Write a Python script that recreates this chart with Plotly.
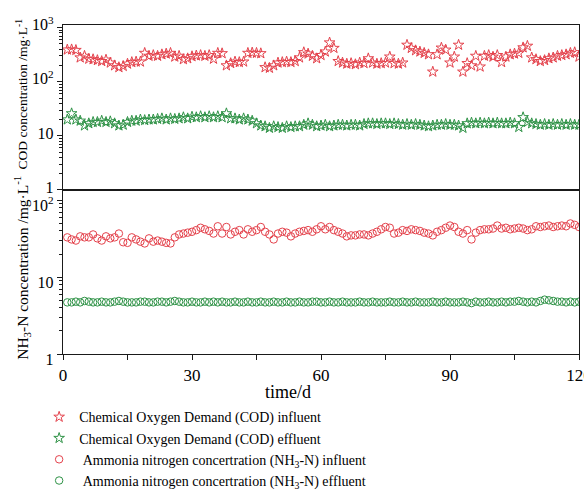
import plotly.graph_objects as go

days = list(range(1, 121))

cod_influent = [
    392, 395, 385, 280, 300, 265, 260, 250, 240, 255,
    225, 200, 185, 195, 215, 230, 235, 235, 340, 300,
    310, 300, 320, 330, 340, 290, 300, 260, 270, 295,
    305, 310, 300, 310, 265, 340, 335, 200, 220, 235,
    230, 235, 340, 345, 340, 335, 185, 180, 200, 225,
    230, 235, 230, 240, 280, 350, 330, 300, 270, 310,
    360, 530, 420, 240, 225, 215, 220, 210, 225, 220,
    270, 225, 215, 220, 225, 290, 220, 215, 225, 480,
    420, 380, 360, 340, 320, 153, 320, 425, 390, 225,
    290, 480, 153, 220, 200, 300, 190, 300, 310, 290,
    310, 230, 290, 320, 330, 340, 430, 460, 280, 260,
    240, 250, 270, 280, 300, 310, 320, 340, 350, 290,
]

cod_effluent = [
    20, 26, 20, 19, 15.5, 17, 18, 18, 19, 18,
    18.5, 17, 15.5, 16, 18, 19, 19, 20, 19.5, 20,
    20, 20.5, 21, 20, 21, 20.5, 21, 22, 21, 22.5,
    22, 23, 22, 23, 22, 23, 22, 26, 21, 21,
    20, 21, 20, 19, 17, 15.5, 15, 14, 15, 14.5,
    14, 15, 14.5, 15, 15, 16, 17, 16, 15, 15.5,
    16, 15, 15.5, 16, 16, 15.5, 16, 16, 15.5, 16.5,
    17, 17, 16.5, 17, 17, 16.5, 17, 16.5, 16, 16.5,
    16, 16.5, 16, 15.5, 15, 15.5, 16, 16, 16.5, 16,
    16, 15.5, 14, 17, 17.5, 17, 17.5, 17, 17.5, 17,
    17.5, 17, 17, 17.5, 17, 14.5, 22, 18, 17, 16.5,
    16, 16.5, 16, 16.5, 16, 16.5, 16, 16.5, 16, 16,
]

nh3_influent = [
    33, 31, 30, 34, 33, 33, 36, 32, 30, 34,
    32, 33, 37, 28.5, 28, 33, 31, 29, 27.5, 32,
    29, 30, 29, 28, 27.5, 33, 36, 37, 38, 39,
    41, 44, 42, 40, 37, 46, 37, 45, 36, 39,
    41, 36, 42, 39, 41, 45, 39, 36, 31, 37,
    39, 38, 34, 37, 39, 40, 41, 39, 42, 46,
    42, 45, 41, 39, 37, 34, 35, 35, 36, 36,
    35, 37, 39, 42, 45, 44, 37, 38, 41, 40,
    42, 41, 40, 38, 37, 35, 39, 41, 44, 47,
    45, 39, 37, 41, 31, 38, 41, 42, 42, 43,
    47, 43, 44, 42, 43, 44, 43, 41, 42, 46,
    45, 46, 47, 45, 46, 47, 46, 50, 48, 45,
]

nh3_effluent = [
    4.7, 4.7, 4.8, 4.7, 4.9, 4.8, 4.7, 4.7, 4.8, 4.7,
    4.7, 4.8, 4.9, 4.8, 4.7, 4.7, 4.7, 4.8, 4.8, 4.7,
    4.7, 4.8, 4.8, 4.7, 4.8, 4.9, 4.8, 4.7, 4.7, 4.8,
    4.7, 4.7, 4.8, 4.7, 4.8, 4.7, 4.8, 4.7, 4.7, 4.8,
    4.7, 4.7, 4.8, 4.7, 4.7, 4.8, 4.7, 4.7, 4.8, 4.7,
    4.7, 4.8, 4.7, 4.7, 4.8, 4.7, 4.7, 4.8, 4.8, 4.7,
    4.7, 4.8, 4.7, 4.7, 4.8, 4.7, 4.7, 4.7, 4.8, 4.7,
    4.7, 4.8, 4.7, 4.7, 4.7, 4.8, 4.7, 4.7, 4.8, 4.7,
    4.7, 4.8, 4.7, 4.7, 4.7, 4.8, 4.7, 4.7, 4.8, 4.7,
    4.7, 4.7, 4.8, 4.7, 4.6, 4.8, 4.7, 4.7, 4.8, 4.7,
    4.7, 4.8, 4.7, 4.8, 4.8, 4.9, 4.8, 4.7, 4.8, 4.7,
    4.9, 5.1, 5.0, 4.9, 4.8, 4.8, 4.7, 4.8, 4.7, 4.8,
]

series_names = [
    "Chemical Oxygen Demand (COD) influent",
    "Chemical Oxygen Demand (COD) effluent",
    "\u00a0Ammonia nitrogen concertration (NH<sub>3</sub>-N) influent",
    "\u00a0Ammonia nitrogen concertration (NH<sub>3</sub>-N) effluent",
]

x_ticks = [0, 30, 60, 90, 120]
cod_tickvals = [1, 10, 100, 1000]
cod_ticktext = ["1", "10", "10<sup>2</sup>", "10<sup>3</sup>"]
nh3_tickvals = [1, 10, 100]
nh3_ticktext = ["1", "10", "10<sup>2</sup>"]
minor_log = [m * 10 ** e for e in range(0, 3) for m in range(2, 10)]

RED = "rgb(228,66,76)"
GREEN = "rgb(46,146,70)"
FONT = "Liberation Serif"
AX = "#1a1a1a"

W, H = 584, 490
ML, MR, MT, MB = 63, 5, 25, 136
PW = W - ML - MR

fig = go.Figure()
fig.add_trace(go.Scatter(x=days, y=cod_influent, mode="markers", name=series_names[0],
                         xaxis="x2", yaxis="y2", legendgroup="a",
                         marker=dict(symbol="star-open", size=8, color=RED, line=dict(width=1))))
fig.add_trace(go.Scatter(x=days, y=cod_effluent, mode="markers", name=series_names[1],
                         xaxis="x2", yaxis="y2", legendgroup="b",
                         marker=dict(symbol="star-open", size=8, color=GREEN, line=dict(width=1))))
fig.add_trace(go.Scatter(x=days, y=nh3_influent, mode="markers", name=series_names[2],
                         xaxis="x", yaxis="y", legendgroup="c",
                         marker=dict(symbol="circle-open", size=7.5, color=RED, line=dict(width=1))))
fig.add_trace(go.Scatter(x=days, y=nh3_effluent, mode="markers", name=series_names[3],
                         xaxis="x", yaxis="y", legendgroup="d",
                         marker=dict(symbol="circle-open", size=7.5, color=GREEN, line=dict(width=1))))

split = 0.4985
common_line = dict(showline=True, linecolor=AX, linewidth=1.4, mirror=True, showgrid=False,
                   zeroline=False, automargin=False)

title_x = (22 - ML) / PW

fig.update_layout(
    width=W, height=H,
    margin=dict(l=ML, r=MR, t=MT, b=MB, autoexpand=False),
    paper_bgcolor="white", plot_bgcolor="white",
    font=dict(family=FONT, color="black", size=16),
    xaxis=dict(domain=[0, 1], anchor="y", range=[0, 120], tickmode="array", tickvals=x_ticks,
               ticks="outside", ticklen=5, tickwidth=1.2, tickcolor=AX,
               minor=dict(dtick=15, tick0=0, ticks="outside", ticklen=5, tickcolor=AX),
               tickfont=dict(size=17), ticklabeloverflow="allow", **common_line),
    xaxis2=dict(domain=[0, 1], anchor="y2", range=[0, 120], matches="x", showticklabels=False,
                ticks="", **common_line),
    yaxis=dict(domain=[0, split], anchor="x", type="log", range=[0, 2.135],
               tickmode="array", tickvals=nh3_tickvals, ticktext=nh3_ticktext,
               ticks="outside", ticklen=5, tickwidth=1.2, tickcolor=AX,
               minor=dict(tickmode="array", tickvals=minor_log[:16], ticks="outside", ticklen=3, tickcolor=AX),
               tickfont=dict(size=16), ticklabelshift=5, ticklabeloverflow="allow",
               **common_line),
    yaxis2=dict(domain=[split, 1], anchor="x2", type="log", range=[0, 3.05],
                tickmode="array", tickvals=cod_tickvals, ticktext=cod_ticktext,
                ticks="outside", ticklen=5, tickwidth=1.2, tickcolor=AX,
                minor=dict(tickmode="array", tickvals=minor_log, ticks="outside", ticklen=3, tickcolor=AX),
                tickfont=dict(size=16), ticklabelshift=-3, ticklabeloverflow="allow",
                **common_line),
    legend=dict(xref="container", yref="container", x=0.067, xanchor="left", y=0.181, yanchor="top",
                traceorder="grouped", tracegroupgap=0, font=dict(size=14, family=FONT),
                bgcolor="rgba(0,0,0,0)"),
    showlegend=True,
    annotations=[
        dict(text="time/d", x=0.436, y=-0.115, xref="paper", yref="paper",
             xanchor="center", yanchor="middle", showarrow=False, font=dict(size=18, family=FONT)),
        dict(text="COD concentration /mg·L<sup>-1</sup>", x=title_x, y=0.789, xref="paper", yref="paper",
             textangle=-90, xanchor="center", yanchor="middle", showarrow=False,
             font=dict(size=13.5, family=FONT)),
        dict(text="NH<sub>3</sub>-N concentration /mg·L<sup>-1</sup>", x=title_x, y=0.262,
             xref="paper", yref="paper",
             textangle=-90, xanchor="center", yanchor="middle", showarrow=False,
             font=dict(size=15.5, family=FONT)),
    ],
)

fig.write_html("out.html", config={"displayModeBar": False},
               post_script="document.body.style.margin='0px';")
